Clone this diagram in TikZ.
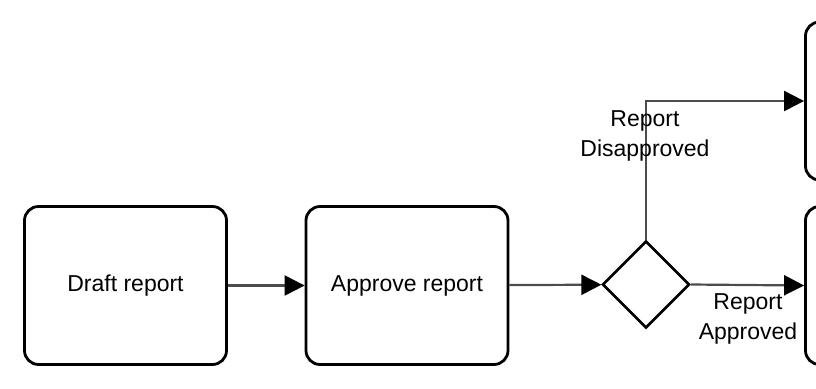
\documentclass[tikz,border=0pt]{standalone}
\usepackage{fontspec}
\setmainfont{Liberation Sans}
\usetikzlibrary{arrows.meta,shapes.geometric}

\begin{document}
\begin{tikzpicture}[
  x=0.5pt, y=-0.5pt,
  every node/.style = {font=\fontsize{11.5}{15}\selectfont},
  task/.style = {draw, line width=1.4pt, rounded corners=7pt,
                 minimum width=101pt, minimum height=79pt},
  gate/.style = {draw, diamond, line width=1.3pt, inner sep=0pt,
                 minimum width=43.5pt, minimum height=43.5pt},
  flow/.style = {draw=black!70, line width=1.1pt,
                 -{Triangle[length=10pt,width=10pt,color=black]}},
  %label/.style = {align=center},
]
  \useasboundingbox (0,0) rectangle (816,388);
  % tasks
  \node[task] (draft)   at (125.5,285.5) {Draft report};
  \node[task] (approve) at (407,285.5)   {Approve report};
  \node[gate] (check)   at (646,284.5)   {};
  % cut off on the right
  \node[task] (redo)    at (906.5,101)   {};
  \node[task] (publish) at (906.5,285.5) {};

  \draw[flow] (draft) -- (approve);
  \draw[flow] (approve) -- (check);
  \draw[flow] (check.north) |- (redo.west);
  \draw[flow] (check.east) -- (publish.west);

  \node[align=center] (nolabel)  at (645,136) {Report\\Disapproved};
  \node[align=center] (yeslabel) at (748,319) {Report\\Approved};
\end{tikzpicture}
\end{document}
